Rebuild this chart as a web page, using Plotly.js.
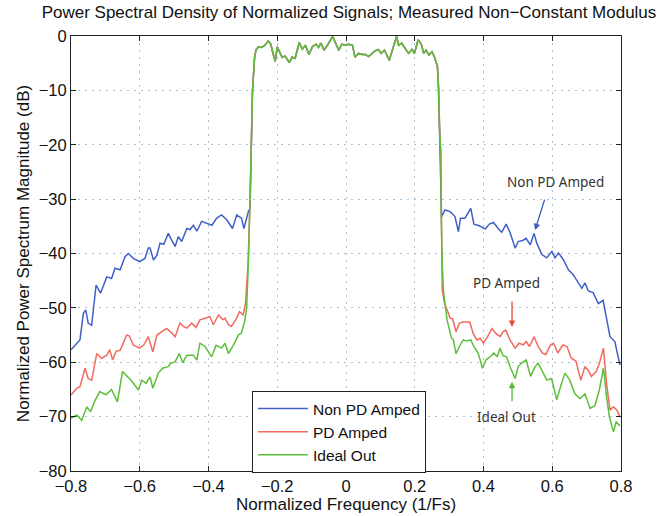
<!DOCTYPE html>
<html>
<head>
<meta charset="utf-8">
<script src="https://cdn.plot.ly/plotly-3.0.1.min.js"></script>
<style>html,body{margin:0;padding:0;background:#fff;}#chart{width:661px;height:516px;}</style>
</head>
<body>
<div id="chart"></div>
<script>
// Shared passband (all three signals overlap here)
const bandFreq = [-0.272,-0.266,-0.262,-0.255,-0.245,-0.236,-0.226,-0.219,-0.213,-0.206,-0.200,-0.193,-0.186,-0.177,-0.165,-0.157,-0.148,-0.136,-0.127,-0.118,-0.108,-0.097,-0.087,-0.080,-0.073,-0.064,-0.054,-0.039,-0.031,-0.021,-0.012,-0.003,0.009,0.019,0.026,0.036,0.048,0.056,0.066,0.076,0.085,0.095,0.102,0.112,0.118,0.126,0.132,0.147,0.153,0.162,0.172,0.182,0.192,0.199,0.210,0.219,0.226,0.233,0.241,0.250,0.257,0.266,0.269,0.272];
const bandDb = [-10,-4,-2.6,-2,-2.1,-1.7,-0.9,-1.5,-3.2,-4.7,-2,-2.9,-3.9,-3.7,-4.9,-3.9,-4.1,-1.2,-2.4,-1.7,-3.4,-1.9,-1.5,-2.1,-1.3,-2.6,-1.7,-0.1,-1.2,-2.6,-1.5,-1.7,-1.5,-1.7,-3.9,-3.2,-3.4,-3.4,-3.8,-3.2,-2.7,-2.5,-3.2,-2.6,-3.5,-4.5,-3.2,-0.1,-1.7,-1.3,-2.3,-3.2,-2.5,-3.2,-0.7,-1.5,-3.2,-2.6,-3.5,-2.9,-3.8,-5.6,-9.3,-17.3];

// Non PD Amped
const nonPdLeftFreq = [-0.800,-0.774,-0.764,-0.757,-0.750,-0.740,-0.727,-0.714,-0.696,-0.682,-0.672,-0.657,-0.643,-0.633,-0.619,-0.600,-0.585,-0.575,-0.570,-0.560,-0.550,-0.541,-0.530,-0.517,-0.507,-0.497,-0.488,-0.478,-0.463,-0.454,-0.444,-0.434,-0.420,-0.405,-0.390,-0.376,-0.362,-0.347,-0.330,-0.318,-0.304,-0.297,-0.284,-0.279];
const nonPdLeftDb = [-57.7,-55.9,-51,-50.4,-52.8,-53.2,-45.8,-47.3,-44.3,-44.6,-42.7,-43,-40.6,-40,-40.9,-41.5,-40.9,-39,-39,-41.2,-40.3,-38.1,-38.3,-36.3,-37.6,-38.7,-36.9,-37.8,-35.4,-35.6,-34.8,-35.9,-34.1,-34.4,-34.8,-33.5,-32.9,-33.8,-35.4,-32.9,-33.5,-35.4,-32.3,-31.7];
const nonPdRightFreq = [0.276,0.278,0.288,0.303,0.317,0.327,0.333,0.346,0.363,0.372,0.388,0.405,0.417,0.429,0.444,0.453,0.466,0.477,0.492,0.501,0.514,0.524,0.536,0.547,0.555,0.570,0.584,0.599,0.608,0.618,0.632,0.647,0.661,0.676,0.686,0.695,0.705,0.719,0.734,0.748,0.758,0.768,0.782,0.797];
const nonPdRightDb = [-26,-33.2,-32,-32.3,-33.2,-36,-33.5,-33.5,-31.7,-34.6,-34.9,-35.5,-34.6,-34.3,-35.5,-36.1,-34.6,-36.1,-39,-37.8,-37.6,-37.2,-38.4,-36.3,-38.1,-40.2,-40.8,-39.6,-40.8,-39.9,-41.1,-43,-43.9,-45.4,-46.4,-45.4,-46.9,-47.2,-49.2,-48.6,-51.9,-55.3,-56.2,-60.5];

// PD Amped
const pdLeftFreq = [-0.800,-0.783,-0.774,-0.759,-0.750,-0.740,-0.725,-0.711,-0.696,-0.687,-0.679,-0.669,-0.657,-0.638,-0.630,-0.619,-0.600,-0.588,-0.575,-0.562,-0.550,-0.536,-0.522,-0.507,-0.497,-0.483,-0.473,-0.463,-0.449,-0.436,-0.425,-0.410,-0.396,-0.386,-0.371,-0.358,-0.352,-0.342,-0.333,-0.318,-0.310,-0.299,-0.292,-0.285,-0.279];
const pdLeftDb = [-66,-64.8,-64.5,-61.1,-63,-63.3,-58.4,-59.3,-58.7,-57.7,-59.6,-58,-57.8,-55,-55.2,-56.8,-57.4,-56.8,-55.3,-58.1,-55,-54.4,-53.8,-54.6,-55.3,-52.8,-53.4,-53.7,-52.8,-53.6,-52.2,-51.9,-51.6,-53.1,-51.3,-52.2,-51.9,-53.1,-53.4,-51.9,-50.7,-51.3,-49,-42,-30];
const pdRightFreq = [0.276,0.280,0.286,0.303,0.310,0.320,0.330,0.341,0.360,0.370,0.381,0.390,0.400,0.412,0.424,0.436,0.448,0.457,0.465,0.477,0.492,0.503,0.516,0.524,0.534,0.547,0.559,0.571,0.581,0.595,0.604,0.616,0.631,0.643,0.655,0.669,0.683,0.695,0.705,0.714,0.728,0.737,0.749,0.758,0.768,0.778,0.788,0.797];
const pdRightDb = [-24,-46.7,-49,-51.9,-52,-54.4,-52.8,-52.6,-52.6,-54.7,-55.9,-55.6,-56.5,-55.3,-53.8,-54.7,-55.3,-54.4,-54.1,-55.9,-57.4,-56.5,-56.8,-56.2,-57.1,-55.3,-57.1,-58.3,-58.6,-56.8,-56.5,-58.3,-56.8,-57.1,-59.2,-59.8,-63.3,-60.8,-61.5,-62.6,-61.7,-60.2,-57.4,-63.9,-68.8,-68.2,-68.8,-70];

// Ideal Out
const idealLeftFreq = [-0.800,-0.783,-0.769,-0.754,-0.743,-0.730,-0.716,-0.698,-0.682,-0.665,-0.650,-0.638,-0.624,-0.604,-0.594,-0.582,-0.570,-0.562,-0.546,-0.534,-0.517,-0.510,-0.497,-0.485,-0.475,-0.463,-0.444,-0.434,-0.425,-0.410,-0.391,-0.378,-0.362,-0.352,-0.342,-0.328,-0.313,-0.304,-0.294,-0.289,-0.284,-0.279];
const idealLeftDb = [-70.3,-69.7,-70.7,-68.2,-69.1,-67,-65.4,-66,-65,-67.3,-61.7,-62.5,-63.4,-65.1,-63.3,-63.9,-62.7,-64.8,-62,-61.1,-60.8,-60.2,-59.9,-58.4,-60.1,-58.7,-58.7,-59.6,-56.5,-57.1,-59,-56.9,-57.4,-56.5,-58.4,-56.9,-55,-54.6,-52.2,-49.8,-41.8,-29.5];
const idealRightFreq = [0.276,0.277,0.280,0.284,0.294,0.307,0.312,0.320,0.330,0.341,0.350,0.363,0.372,0.385,0.397,0.407,0.419,0.430,0.440,0.448,0.457,0.467,0.477,0.492,0.501,0.510,0.524,0.537,0.550,0.559,0.574,0.584,0.598,0.613,0.627,0.637,0.651,0.666,0.681,0.695,0.710,0.724,0.737,0.749,0.758,0.766,0.778,0.786,0.797];
const idealRightDb = [-21,-33.2,-41.8,-47.3,-52.2,-55.6,-55.8,-58.4,-57.1,-55.9,-56.1,-55.9,-57.1,-58.4,-61.1,-59.6,-59,-58.3,-59,-57.4,-58.8,-59,-60.8,-63,-60.8,-60.2,-59.6,-62.6,-60.8,-60.2,-62,-63.3,-63,-66.9,-63.9,-62,-63.3,-65.8,-66.7,-65.8,-68.5,-68,-65.1,-61.1,-66.3,-70,-72.8,-71,-71.7];

const seriesNames = ["Non PD Amped", "PD Amped", "Ideal Out"];
const xTicks = [-0.8,-0.6,-0.4,-0.2,0,0.2,0.4,0.6,0.8];
const yTicks = [0,-10,-20,-30,-40,-50,-60,-70,-80];

const colors = ["#4060c8", "#f26b5e", "#5cbf3c"];
function mk(i, lf, ld, rf, rd) {
  return {
    type: "scatter", mode: "lines", name: seriesNames[i],
    x: lf.concat(bandFreq, rf), y: ld.concat(bandDb, rd),
    line: {color: colors[i], width: 1.5}
  };
}
const traces = [
  mk(0, nonPdLeftFreq, nonPdLeftDb, nonPdRightFreq, nonPdRightDb),
  mk(1, pdLeftFreq, pdLeftDb, pdRightFreq, pdRightDb),
  mk(2, idealLeftFreq, idealLeftDb, idealRightFreq, idealRightDb)
];

const FONT = "Liberation Sans, Arial, sans-serif";
const axisCommon = {
  showline: true, linecolor: "#222", linewidth: 1, mirror: "ticks",
  ticks: "inside", ticklen: 5, tickcolor: "#222",
  showgrid: true, gridcolor: "#a9c2d6", griddash: "2px,5px", gridwidth: 1,
  zeroline: false, tickfont: {family: FONT, size: 16.5, color: "#111"}
};
const annFont = {family: "Noto Sans, sans-serif", size: 13.5, color: "#333"};
const layout = {
  width: 661, height: 516,
  margin: {l: 71, r: 40, t: 36, b: 45},
  paper_bgcolor: "#fff", plot_bgcolor: "#fff",
  title: {text: "Power Spectral Density of Normalized Signals; Measured Non\u2212Constant Modulus",
          font: {family: FONT, size: 17, color: "#111"},
          x: 0.528, xanchor: "center", y: 0.976, yanchor: "middle", yref: "container"},
  xaxis: Object.assign({}, axisCommon, {range: [-0.8, 0.8], tickvals: xTicks,
          title: {text: "Normalized Frequency (1/Fs)", standoff: 2,
                  font: {family: FONT, size: 17, color: "#111"}}}),
  yaxis: Object.assign({}, axisCommon, {range: [-80, 0], tickvals: yTicks,
          title: {text: "Normalized Power Spectrum Magnitude (dB)", standoff: 4,
                  font: {family: FONT, size: 17, color: "#111"}}}),
  showlegend: true,
  legend: {x: 0.329, y: 0.184, xanchor: "left", yanchor: "top",
           bordercolor: "#222", borderwidth: 1, bgcolor: "#fff",
           font: {family: FONT, size: 15.5, color: "#111"},
           tracegroupgap: 0, itemwidth: 50},
  annotations: [
    {x: 0.608, y: -26.9, text: "Non PD Amped", showarrow: false, font: annFont},
    {x: 0.55, y: -35.7, ax: 10, ay: -32, text: "", showarrow: true, arrowhead: 2, arrowsize: 1, arrowwidth: 1.3, arrowcolor: "#3a5cc4"},
    {x: 0.466, y: -45.4, text: "PD Amped", showarrow: false, font: annFont},
    {x: 0.483, y: -53.5, ax: 0, ay: -27, text: "", showarrow: true, arrowhead: 2, arrowsize: 1, arrowwidth: 1.3, arrowcolor: "#ee4a3c"},
    {x: 0.466, y: -70.1, text: "Ideal Out", showarrow: false, font: annFont},
    {x: 0.483, y: -63.6, ax: 0, ay: 21, text: "", showarrow: true, arrowhead: 2, arrowsize: 1, arrowwidth: 1.3, arrowcolor: "#52b836"}
  ]
};
Plotly.newPlot("chart", traces, layout, {displayModeBar: false, staticPlot: true});
</script>
</body>
</html>
